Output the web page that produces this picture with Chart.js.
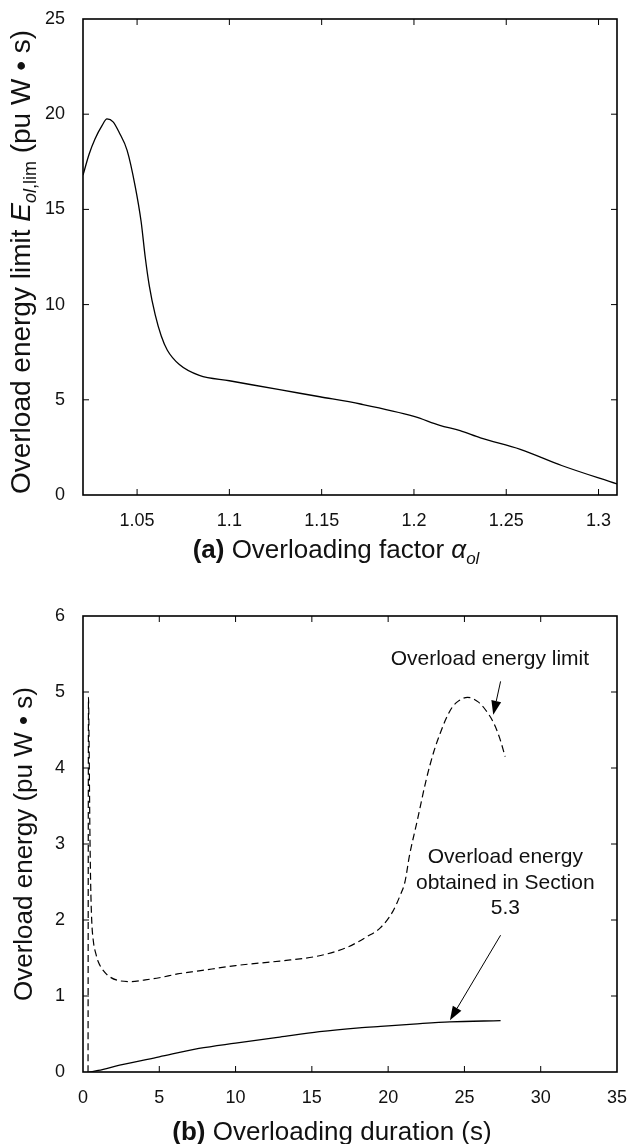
<!DOCTYPE html>
<html><head><meta charset="utf-8">
<script src="https://cdn.jsdelivr.net/npm/chart.js@4"></script>
<style>
html,body{margin:0;padding:0;background:#fff;}
#wrapA{position:absolute;left:0;top:0;width:627px;height:580px;}
#wrapB{position:absolute;left:0;top:580px;width:627px;height:564px;}
</style></head><body>
<div id="wrapA"><canvas id="cA"></canvas></div>
<div id="wrapB"><canvas id="cB"></canvas></div>
<script>
// ---------- Data: chart (a) ----------
const factorA = [1.0207, 1.024, 1.0272, 1.031, 1.0337, 1.037, 1.0403, 1.0446, 1.049, 1.0522, 1.0544, 1.0566, 1.0598, 1.0631, 1.0664, 1.0729, 1.0837, 1.10, 1.1272, 1.149, 1.171, 1.20, 1.214, 1.225, 1.236, 1.2576, 1.28, 1.31];
const limitA  = [16.8, 17.9, 18.7, 19.4, 19.75, 19.6, 19.04, 18.1, 16.2, 14.35, 12.5, 11.0, 9.47, 8.35, 7.6, 6.85, 6.28, 6.0, 5.53, 5.16, 4.78, 4.13, 3.66, 3.38, 3.0, 2.4, 1.55, 0.58];
const xTicksA = [1.05, 1.1, 1.15, 1.2, 1.25, 1.3];
const yTicksA = [0, 5, 10, 15, 20, 25];

// ---------- Data: chart (b) ----------
const durLimit = [0.33, 0.36, 0.40, 0.45, 0.50, 0.57, 0.68, 0.85, 1.0, 1.35, 1.77, 2.4, 3.2, 4.0, 5.0, 6.2, 7.6, 10.0, 12.9, 15.5, 17.3, 18.6, 19.5, 20.3, 20.8, 21.1, 21.4, 21.9, 22.5, 23.0, 23.4, 23.8, 24.2, 24.6, 25.2, 25.9, 26.4, 26.9, 27.3, 27.67];
const energyLimit = [0, 4.93, 4.3, 3.2, 2.5, 2.0, 1.72, 1.55, 1.45, 1.33, 1.25, 1.2, 1.19, 1.21, 1.24, 1.29, 1.33, 1.4, 1.46, 1.53, 1.64, 1.78, 1.9, 2.11, 2.33, 2.5, 2.85, 3.3, 3.85, 4.22, 4.45, 4.65, 4.8, 4.88, 4.93, 4.87, 4.76, 4.6, 4.4, 4.15];
const durObtained = [0.41, 1.0, 2.4, 5.0, 7.6, 10.0, 12.9, 15.5, 18.1, 19.5, 21.65, 24.05, 27.37];
const energyObtained = [0, 0.02, 0.09, 0.2, 0.31, 0.38, 0.46, 0.53, 0.58, 0.6, 0.63, 0.66, 0.675];
const xTicksB = [0, 5, 10, 15, 20, 25, 30, 35];
const yTicksB = [0, 1, 2, 3, 4, 5, 6];

// annotation texts and anchors (data units of chart b)
const noteLimit = {lines: ['Overload energy limit'], x: 26.67, y: [5.43]};
const noteObtained = {lines: ['Overload energy', 'obtained in Section', '5.3'], x: 27.68, y: [2.83, 2.49, 2.16]};
const arrowLimit = {from: [27.37, 5.14], to: [26.89, 4.70]};
const arrowObtained = {from: [27.37, 1.80], to: [24.05, 0.68]};

// ---------- Styling ----------
const FAM = '"Liberation Sans", Arial, Helvetica, sans-serif';
const TXT = '#111';

function richText(ctx, segs, cx, cy, rot) {
  ctx.save();
  ctx.translate(cx, cy);
  if (rot) ctx.rotate(rot);
  let total = 0;
  segs.forEach(s => { ctx.font = s.font; s.w = ctx.measureText(s.t).width; total += s.w; });
  let x = -total / 2;
  ctx.textBaseline = 'alphabetic';
  ctx.textAlign = 'left';
  ctx.fillStyle = TXT;
  segs.forEach(s => { ctx.font = s.font; ctx.fillText(s.t, x, s.dy || 0); x += s.w; });
  ctx.restore();
}

function frameAndTicks(chart, xt, yt) {
  const ctx = chart.ctx, a = chart.chartArea;
  const xs = chart.scales.x, ys = chart.scales.y;
  ctx.save();
  ctx.strokeStyle = '#000';
  ctx.lineWidth = 1;
  ctx.beginPath();
  xt.forEach(v => {
    const p = xs.getPixelForValue(v);
    if (p < a.left + 2 || p > a.right - 2) return;
    ctx.moveTo(p, a.bottom); ctx.lineTo(p, a.bottom - 6);
    ctx.moveTo(p, a.top); ctx.lineTo(p, a.top + 6);
  });
  yt.forEach(v => {
    const p = ys.getPixelForValue(v);
    if (p < a.top + 2 || p > a.bottom - 2) return;
    ctx.moveTo(a.left, p); ctx.lineTo(a.left + 6, p);
    ctx.moveTo(a.right, p); ctx.lineTo(a.right - 6, p);
  });
  ctx.stroke();
  ctx.lineWidth = 1.6;
  ctx.strokeRect(a.left, a.top, a.right - a.left, a.bottom - a.top);
  ctx.restore();
}

function arrow(ctx, xs, ys, spec) {
  const x1 = xs.getPixelForValue(spec.from[0]), y1 = ys.getPixelForValue(spec.from[1]);
  const x2 = xs.getPixelForValue(spec.to[0]), y2 = ys.getPixelForValue(spec.to[1]);
  const ang = Math.atan2(y2 - y1, x2 - x1);
  const L = 14, W = 5;
  const bx = x2 - L * Math.cos(ang), by = y2 - L * Math.sin(ang);
  ctx.save();
  ctx.strokeStyle = '#000'; ctx.fillStyle = '#000'; ctx.lineWidth = 1;
  ctx.beginPath(); ctx.moveTo(x1, y1); ctx.lineTo(bx, by); ctx.stroke();
  ctx.beginPath();
  ctx.moveTo(x2, y2);
  ctx.lineTo(bx + W * Math.sin(ang), by - W * Math.cos(ang));
  ctx.lineTo(bx - W * Math.sin(ang), by + W * Math.cos(ang));
  ctx.closePath(); ctx.fill();
  ctx.restore();
}

function axisCfg(min, max, ticks, side, size) {
  return {
    type: 'linear', min: min, max: max,
    afterBuildTicks: s => { s.ticks = ticks.map(v => ({value: v})); },
    afterFit: s => {
      if (side === 'x') { s.height = size; s.paddingLeft = 0; s.paddingRight = 0; }
      else { s.width = size; s.paddingTop = 0; s.paddingBottom = 0; }
    },
    grid: {display: false},
    border: {display: false},
    ticks: {
      autoSkip: false, maxRotation: 0, minRotation: 0,
      padding: side === 'x' ? 7 : 10,
      color: TXT,
      font: {family: FAM, size: 18},
      callback: (v, i) => String(ticks[i])
    }
  };
}

const baseOpts = {
  responsive: true, maintainAspectRatio: false, animation: false,
  plugins: {legend: {display: false}, tooltip: {enabled: false}},
  elements: {point: {radius: 0}}
};

// ---------- Chart (a) ----------
new Chart(document.getElementById('cA'), {
  type: 'line',
  data: {datasets: [{
    data: factorA.map((x, i) => ({x: x, y: limitA[i]})),
    borderColor: '#000', borderWidth: 1.3, fill: false,
    cubicInterpolationMode: 'monotone'
  }]},
  options: Object.assign({}, baseOpts, {
    layout: {padding: {left: 0, right: 10, top: 19, bottom: 0}},
    scales: {x: axisCfg(1.0207, 1.31, xTicksA, 'x', 85), y: axisCfg(0, 25, yTicksA, 'y', 83)}
  }),
  plugins: [{
    id: 'decorA',
    afterDraw(chart) {
      const ctx = chart.ctx, a = chart.chartArea;
      frameAndTicks(chart, xTicksA, yTicksA);
      const f = 28;
      richText(ctx, [
        {t: 'Overload energy limit ', font: `${f}px ${FAM}`},
        {t: 'E', font: `italic ${f}px ${FAM}`},
        {t: 'ol', font: `italic ${Math.round(f * 0.65)}px ${FAM}`, dy: f * 0.22},
        {t: ',lim', font: `${Math.round(f * 0.65)}px ${FAM}`, dy: f * 0.22},
        {t: ' (pu W \u2022 s)', font: `${f}px ${FAM}`}
      ], 30, 262, -Math.PI / 2);
      const g = 26;
      richText(ctx, [
        {t: '(a)', font: `bold ${g}px ${FAM}`},
        {t: ' Overloading factor ', font: `${g}px ${FAM}`},
        {t: '\u03B1', font: `italic ${g}px ${FAM}`},
        {t: 'ol', font: `italic ${Math.round(g * 0.65)}px ${FAM}`, dy: g * 0.22}
      ], 336, 558, 0);
    }
  }]
});

// ---------- Chart (b) ----------
new Chart(document.getElementById('cB'), {
  type: 'line',
  data: {datasets: [
    {
      data: durLimit.map((x, i) => ({x: x, y: energyLimit[i]})),
      borderColor: '#000', borderWidth: 1.2, borderDash: [7, 4], fill: false,
      cubicInterpolationMode: 'monotone'
    },
    {
      data: durObtained.map((x, i) => ({x: x, y: energyObtained[i]})),
      borderColor: '#000', borderWidth: 1.3, fill: false,
      cubicInterpolationMode: 'monotone'
    }
  ]},
  options: Object.assign({}, baseOpts, {
    layout: {padding: {left: 0, right: 10, top: 36, bottom: 0}},
    scales: {x: axisCfg(0, 35, xTicksB, 'x', 72), y: axisCfg(0, 6, yTicksB, 'y', 83)}
  }),
  plugins: [{
    id: 'decorB',
    afterDraw(chart) {
      const ctx = chart.ctx, a = chart.chartArea;
      const xs = chart.scales.x, ys = chart.scales.y;
      frameAndTicks(chart, xTicksB, yTicksB);
      const f = 26;
      richText(ctx, [
        {t: 'Overload energy (pu W \u2022 s)', font: `${f}px ${FAM}`}
      ], 31.5, (a.top + a.bottom) / 2, -Math.PI / 2);
      richText(ctx, [
        {t: '(b)', font: `bold ${f}px ${FAM}`},
        {t: ' Overloading duration (s)', font: `${f}px ${FAM}`}
      ], 332, 560, 0);
      ctx.save();
      ctx.fillStyle = TXT;
      ctx.font = `21px ${FAM}`;
      ctx.textAlign = 'center';
      ctx.textBaseline = 'middle';
      [noteLimit, noteObtained].forEach(n => {
        n.lines.forEach((t, i) => ctx.fillText(t, xs.getPixelForValue(n.x), ys.getPixelForValue(n.y[i])));
      });
      ctx.restore();
      arrow(ctx, xs, ys, arrowLimit);
      arrow(ctx, xs, ys, arrowObtained);
    }
  }]
});
</script>
</body></html>
